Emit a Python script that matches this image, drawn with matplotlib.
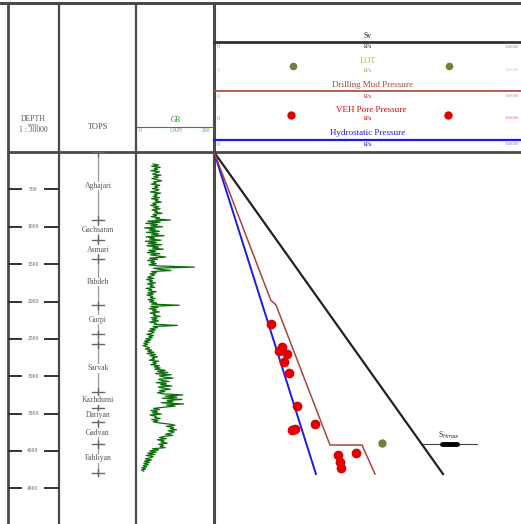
import numpy as np
import matplotlib
matplotlib.use("Agg")
import matplotlib.pyplot as plt

plt.rcParams['font.family'] = ['Liberation Serif', 'DejaVu Serif']

# ---------------- data ----------------
depth_ticks = [500, 1000, 1500, 2000, 2500, 3000, 3500, 4000, 4500]

# formation tops (m) and names
tops_depth = [0, 910, 1180, 1430, 2050, 2440, 2575, 3210, 3430, 3610, 3910, 4290]
tops_names = ["Aghajari", "Gachsaran", "Asmari", "Pabdeh", "Gurpi", "", "Sarvak",
              "Kazhdumi", "Dariyan", "Gadvan", "Fahliyan"]

# gamma ray log (GAPI), sampled every 15 m from 160 m to 4270 m
gr_depth = np.arange(160, 4271, 15)
gr_values = [
    # 160-895
    44, 58, 40, 62, 47, 55, 38, 60, 50, 43, 64, 46, 57, 41, 53, 66, 45, 52, 39, 61,
    48, 56, 42, 59, 51, 37, 63, 47, 54, 44, 60, 40, 57, 49, 65, 43, 52, 38, 58, 46,
    62, 41, 55, 48, 67, 44, 53, 39, 60, 50,
    # 910
    88,
    # 925-1405
    30, 62, 25, 55, 38, 68, 22, 50, 34, 60, 27, 57, 40, 72, 26, 48, 35, 64, 24, 53,
    31, 66, 28, 58, 42, 70, 33, 50, 29, 61, 37, 55, 76,
    # 1420-1525
    35, 55, 30, 48, 38, 52, 33, 60,
    # 1540
    150,
    # 1555-1660
    45, 60, 90, 40, 52, 36, 48, 38,
    # 1675-2035
    30, 46, 27, 42, 34, 50, 29, 44, 36, 48, 26, 40, 33, 52, 30, 45, 28, 43, 37, 49,
    31, 46, 35, 53, 40,
    # 2050
    111,
    # 2065-2305
    38, 56, 34, 52, 42, 60, 36, 50, 45, 62, 39, 54, 41, 58, 35, 52, 47,
    # 2320
    106,
    # 2335-2875
    44, 55, 36, 50, 32, 47, 40, 28, 45, 33, 42, 25, 38, 22, 34, 20, 30, 18, 27, 35,
    24, 40, 30, 46, 28, 50, 36, 55, 41, 48, 34, 58, 43, 52, 38, 60, 47,
    # 2890-3235
    62, 48, 75, 55, 82, 50, 90, 60, 72, 95, 58, 66, 85, 52, 78, 63, 92, 57, 70, 88,
    60, 74, 55, 68,
    # 3250-3415
    120, 75, 105, 68, 118, 80, 95, 65, 122, 78, 100, 70,
    # 3430-3625
    45, 60, 38, 55, 42, 65, 36, 52, 48, 62, 40, 57, 44, 60,
    # 3640-3805
    85, 100, 78, 96, 88, 104, 82, 98, 90, 76, 94, 72,
    # 3820-3955
    60, 78, 55, 72, 64, 80, 58, 70, 62, 75,
    # 3970-4270
    42, 58, 35, 52, 30, 48, 26, 44, 38, 24, 40, 22, 35, 20, 32, 18, 28, 15, 25, 14,
    20,
]

# pressures (kPa) vs depth (m)
sv_depth = [0, 4308]
sv_kpa = [0, 109400]
hydro_depth = [0, 4308]
hydro_kpa = [0, 48700]
mud_depth = [0, 1980, 2047, 3920, 3920, 4308]
mud_kpa = [0, 27090, 29620, 55420, 70700, 76900]

pore_depth = [2301, 2605, 2658, 2702, 2805, 2953, 3398, 3710, 3719, 3643, 4023, 4054, 4143, 4231]
pore_kpa = [27090, 32340, 31190, 34730, 33440, 35970, 39510, 38690, 37120, 48250,
            67830, 59380, 60190, 60670]

lot_depth = [3897]
lot_kpa = [80110]

shmax_depth = 3900
shmax_range = [99800, 125600]
shmax_core = [108800, 115900]

# ---------------- layout ----------------
W, H = 521, 524
fig = plt.figure(figsize=(W / 100, H / 100), dpi=100)
fig.patch.set_facecolor('white')

bg = fig.add_axes([0, 0, 1, 1])
bg.set_xlim(0, W)
bg.set_ylim(H, 0)
bg.axis('off')


def px_axes(x0, x1, y0, y1):
    ax = fig.add_axes([x0 / W, 1 - y1 / H, (x1 - x0) / W, (y1 - y0) / H])
    ax.set_facecolor('none')
    for s in ax.spines.values():
        s.set_visible(False)
    ax.set_xticks([])
    ax.set_yticks([])
    return ax


Y_TOP = 152
DMAX = (H - Y_TOP) / 0.07475

frame_c = '#4a4a4a'
# frame lines
bg.plot([0, W], [3, 3], color=frame_c, lw=2.2)
bg.plot([8, W], [152, 152], color=frame_c, lw=2.0)
for x, lw in [(8, 2.0), (59, 1.6), (136, 1.6), (214, 2.2)]:
    bg.plot([x, x], [4, H], color=frame_c, lw=lw)

# column headers
tc = '#555555'
bg.text(33, 119, "DEPTH", ha='center', va='center', fontsize=5.5, color=tc)
bg.text(33, 124.5, "meters", ha='center', va='center', fontsize=3, color=tc)
bg.text(33, 130, "1 : 30000", ha='center', va='center', fontsize=5.5, color=tc)
bg.text(98, 127, "TOPS", ha='center', va='center', fontsize=6, color=tc)
bg.text(176, 120, "GR", ha='center', va='center', fontsize=5.5, color='#2e8b2e')
bg.plot([137, 213], [127, 127], color='#2e8b2e', lw=0.8)
bg.text(140, 131, "0", ha='center', va='center', fontsize=4, color='#5aa05a')
bg.text(176, 131, "GAPI", ha='center', va='center', fontsize=4, color='#5aa05a')
bg.text(206, 131, "200", ha='center', va='center', fontsize=4, color='#5aa05a')

# pressure track header
mud_c = '#a8443a'
pore_c = '#e00000'
lot_c = '#6f8040'
hyd_c = '#1a1aee'
hx = 368
bg.text(hx, 36, "Sv", ha='center', va='center', fontsize=5.5, color='#222222')
bg.plot([214, W], [42, 42], color='#333333', lw=2.0)
bg.text(hx, 47, "kPa", ha='center', va='center', fontsize=4, color='#333333')
bg.text(hx, 61, "LOT", ha='center', va='center', fontsize=6, color='#a8b060')
bg.text(hx, 70, "kPa", ha='center', va='center', fontsize=4, color='#a8b060')
bg.plot([293, 449], [66, 66], 'o', color=lot_c, ms=4.5, ls='none')
bg.text(hx + 4, 85, "Drilling Mud Pressure", ha='center', va='center', fontsize=6.5, color=mud_c)
bg.plot([214, W], [91, 91], color=mud_c, lw=1.2)
bg.text(hx, 96, "kPa", ha='center', va='center', fontsize=4, color=mud_c)
bg.text(hx + 3, 110, "VEH Pore Pressure", ha='center', va='center', fontsize=6.5, color=pore_c)
bg.text(hx, 118, "kPa", ha='center', va='center', fontsize=4, color=pore_c)
bg.plot([291, 448], [115, 115], 'o', color=pore_c, ms=5, ls='none')
bg.text(hx, 133, "Hydrostatic Pressure", ha='center', va='center', fontsize=6.5, color=hyd_c)
bg.plot([214, W], [139.5, 139.5], color=hyd_c, lw=1.6)
bg.text(hx, 144, "kPa", ha='center', va='center', fontsize=4, color=hyd_c)
for yy, c in [(47, '#333333'), (70, '#a8b060'), (96, mud_c), (118, pore_c), (144, hyd_c)]:
    bg.text(218, yy, "0", ha='center', va='center', fontsize=4, color=c, alpha=0.6)
    bg.text(519, yy, "150000", ha='right', va='center', fontsize=3.5, color=c, alpha=0.6)

# ---------------- depth track ----------------
axd = px_axes(8, 59, Y_TOP, H)
axd.set_xlim(0, 51)
axd.set_ylim(DMAX, 0)
for d in depth_ticks:
    axd.plot([0, 13], [d, d], color='#333333', lw=1.4)
    axd.plot([37, 51], [d, d], color='#333333', lw=1.4)
    axd.text(25, d, str(d), ha='center', va='center', fontsize=4, color='#555555')

# ---------------- tops track ----------------
axt = px_axes(59, 136, Y_TOP, H)
axt.set_xlim(0, 77)
axt.set_ylim(DMAX, 0)
axt.plot([39, 39], [tops_depth[0], tops_depth[-1]], color='#9a9a9a', lw=0.9, zorder=1)
for d in tops_depth:
    axt.plot([33, 45], [d, d], color='#666666', lw=1.0, zorder=2)
    axt.plot([39, 39], [d - 50, d + 50], color='#666666', lw=1.0, zorder=2)
for i, name in enumerate(tops_names):
    if not name:
        continue
    mid = 0.5 * (tops_depth[i] + tops_depth[i + 1])
    axt.text(39, mid, name, ha='center', va='center', fontsize=5.5, color='#555555', zorder=3,
             bbox=dict(facecolor='white', edgecolor='none', pad=0.3))

# ---------------- GR track ----------------
axg = px_axes(136, 214, Y_TOP, H)
axg.set_xlim(0, 200)
axg.set_ylim(DMAX, 0)
axg.plot(gr_values, gr_depth, color='#0b6e0b', lw=0.9)

# ---------------- pressure track ----------------
axp = px_axes(214, 528, Y_TOP, H)
axp.set_xlim(0, 150000)
axp.set_ylim(DMAX, 0)
axp.plot(sv_kpa, sv_depth, color='#222222', lw=1.6)
axp.plot(hydro_kpa, hydro_depth, color=hyd_c, lw=1.4)
axp.plot(mud_kpa, mud_depth, color=mud_c, lw=1.1)
axp.plot(pore_kpa, pore_depth, 'o', color=pore_c, ms=6, ls='none')
axp.plot(lot_kpa, lot_depth, 'o', color=lot_c, ms=5, ls='none')
axp.plot(shmax_range, [shmax_depth, shmax_depth], color='#444444', lw=0.8)
axp.plot(shmax_core, [shmax_depth, shmax_depth], color='black', lw=3.5, solid_capstyle='round')
axp.text(sum(shmax_core) / 2, shmax_depth - 110, r"S$_{Hmax}$", ha='center', va='center',
         fontsize=5.5, color='#333333')

fig.savefig("out.png", dpi=100, facecolor='white')
